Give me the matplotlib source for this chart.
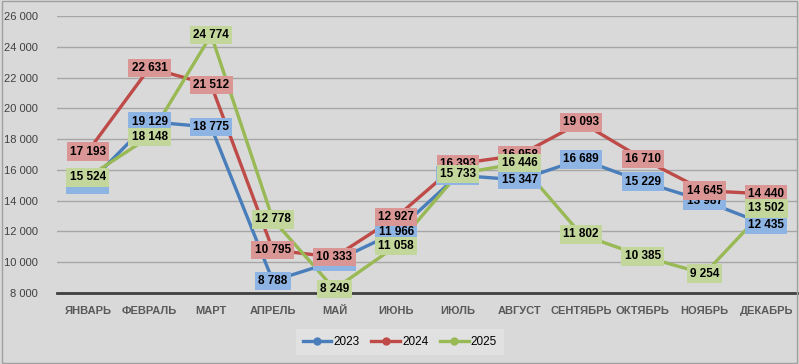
import matplotlib.pyplot as plt
from matplotlib.ticker import FuncFormatter

plt.rcParams['font.family'] = ['Liberation Sans', 'DejaVu Sans']

months = ['ЯНВАРЬ', 'ФЕВРАЛЬ', 'МАРТ', 'АПРЕЛЬ', 'МАЙ', 'ИЮНЬ',
          'ИЮЛЬ', 'АВГУСТ', 'СЕНТЯБРЬ', 'ОКТЯБРЬ', 'НОЯБРЬ', 'ДЕКАБРЬ']
y2023 = [15070, 19129, 18775, 8788, 10050, 11966, 15650, 15347, 16689, 15229, 13987, 12435]
y2024 = [17193, 22631, 21512, 10795, 10333, 12927, 16393, 16958, 19093, 16710, 14645, 14440]
y2025 = [15524, 18148, 24774, 12778, 8249, 11058, 15733, 16446, 11802, 10385, 9254, 13502]

series = [
    ('2023', y2023, '#4a7ebb', '#8eb4e3'),
    ('2024', y2024, '#be4b48', '#da9694'),
    ('2025', y2025, '#98b954', '#c3d69b'),
]

fig = plt.figure(figsize=(7.99, 3.64), dpi=100, facecolor='#d9d9d9')
ax = fig.add_axes([57 / 799, 71 / 364, 740 / 799, 277 / 364])
ax.set_facecolor('#d9d9d9')

x = list(range(len(months)))
for i, (name, vals, col, light) in enumerate(series):
    ax.plot(x, vals, color=col, lw=2.4, marker='o', ms=10,
            label=name, zorder=2)
    for xi, v in zip(x, vals):
        ax.text(xi, v, f'{v:,}'.replace(',', ' '), ha='center', va='center',
                fontsize=8.5, fontweight='bold', color='black', zorder=3 + i,
                bbox=dict(boxstyle='square,pad=0.28', fc=light, ec='none'))

ax.set_xlim(-0.5, 11.5)
ax.set_ylim(8000, 26000)
ax.set_yticks(range(8000, 26001, 2000))
ax.yaxis.set_major_formatter(FuncFormatter(lambda v, p: f'{int(v):,}'.replace(',', ' ')))
ax.set_xticks(x)
ax.set_xticklabels(months, fontsize=8, fontweight='bold', color='#595959')
ax.tick_params(axis='y', labelsize=8, colors='#404040', length=0, pad=14)
ax.tick_params(axis='x', length=0, pad=9)
ax.grid(axis='y', color='#a6a6a6', lw=1)
ax.set_axisbelow(True)
for s in ['top', 'right', 'left']:
    ax.spines[s].set_visible(False)
ax.spines['bottom'].set_color('#404040')
ax.spines['bottom'].set_linewidth(2)

leg = fig.legend(loc='center', bbox_to_anchor=(400 / 799, 1 - 342 / 364), ncol=3,
                 frameon=True, fontsize=8.5, handlelength=2.4, columnspacing=1.0,
                 handletextpad=0.2, borderpad=0.6, fancybox=False)
leg.get_frame().set_facecolor('#e4e4e4')
leg.get_frame().set_edgecolor('none')
for h in leg.legend_handles:
    h.set_markersize(5)
    h.set_linewidth(2.4)

fig.patches.append(plt.Rectangle((0.002, 0.003), 0.996, 0.994, transform=fig.transFigure,
                                 fill=False, ec='#a0a0a0', lw=1))

fig.savefig('out.png', dpi=100, facecolor=fig.get_facecolor())
